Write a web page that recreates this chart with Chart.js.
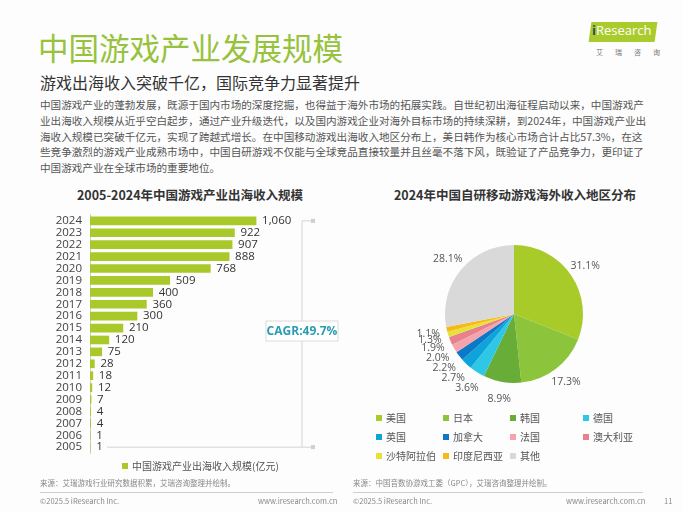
<!DOCTYPE html>
<html>
<head>
<meta charset="utf-8">
<script src="https://cdn.jsdelivr.net/npm/chart.js@4"></script>
<style>
  body { margin: 0; background: #fdfdfd; font-family: "Noto Sans CJK SC", "Noto Sans", sans-serif; }
  #page { position: relative; width: 683px; height: 512px; overflow: hidden; }
  .abs { position: absolute; white-space: nowrap; }
  #title { left: 38px; top: 28px; font-size: 30.5px; color: #97c23c; line-height: 38px; }
  #subtitle { left: 40px; top: 71px; font-size: 16px; color: #333; line-height: 22px; }
  .para { left: 40px; font-size: 10.6px; color: #555; line-height: 14px; }
  .ctitle { font-size: 12.5px; font-weight: bold; color: #333; top: 185px; transform: translateX(-50%); }
  .leg { font-size: 10px; color: #555; line-height: 12px; }
  .leg i { display: inline-block; width: 6px; height: 6px; margin-right: 4px; vertical-align: 1px; }
  .foot { font-size: 7.5px; color: #888; }
  .rule { height: 1px; background: #cfcfcf; }
  #logo { left: 590px; top: 22px; width: 66px; height: 20px; background: #a9cc2c; transform: skewX(-8deg); }
  #logoText { left: 592px; top: 21px; font-size: 13px; color: #fff; font-family: "Open Sans", sans-serif; }
  #logoText b { color: #3a4a5a; font-weight: bold; }
</style>
</head>
<body>
<div id="page">
  <div class="abs" id="title">中国游戏产业发展规模</div>
  <div class="abs" id="logo"></div>
  <div class="abs" id="logoText"><b>i</b>Research</div>
  <div class="abs" style="left:596px;top:47px;font-size:7px;color:#777;letter-spacing:12px;">艾瑞咨询</div>
  <div class="abs" id="subtitle">游戏出海收入突破千亿，国际竞争力显著提升</div>

  <div class="abs para" style="top:98px">中国游戏产业的蓬勃发展，既源于国内市场的深度挖掘，也得益于海外市场的拓展实践。自世纪初出海征程启动以来，中国游戏产</div>
  <div class="abs para" style="top:114px">业出海收入规模从近乎空白起步，通过产业升级迭代，以及国内游戏企业对海外目标市场的持续深耕，到2024年，中国游戏产业出</div>
  <div class="abs para" style="top:130px">海收入规模已突破千亿元，实现了跨越式增长。在中国移动游戏出海收入地区分布上，美日韩作为核心市场合计占比57.3%，在这</div>
  <div class="abs para" style="top:145px">些竞争激烈的游戏产业成熟市场中，中国自研游戏不仅能与全球竞品直接较量并且丝毫不落下风，既验证了产品竞争力，更印证了</div>
  <div class="abs para" style="top:161px">中国游戏产业在全球市场的重要地位。</div>

  <div class="abs ctitle" style="left:190px">2005-2024年中国游戏产业出海收入规模</div>
  <div class="abs ctitle" style="left:515px">2024年中国自研移动游戏海外收入地区分布</div>

  <canvas id="barChart" class="abs" style="left:30px;top:200px;width:320px;height:268px"></canvas>
  <canvas id="pieChart" class="abs" style="left:400px;top:200px;width:228px;height:228px"></canvas>

  <div class="abs leg" style="left:122px;top:460px"><i style="background:#a9c92b"></i>中国游戏产业出海收入规模(亿元)</div>

  <div class="abs foot" style="left:40px;top:477px">来源：艾瑞游戏行业研究数据积累，艾瑞咨询整理并绘制。</div>
  <div class="abs foot" style="left:353px;top:477px">来源：中国音数协游戏工委（GPC），艾瑞咨询整理并绘制。</div>
  <div class="abs rule" style="left:40px;top:492px;width:293px"></div>
  <div class="abs rule" style="left:353px;top:492px;width:290px"></div>
  <div class="abs foot" style="left:40px;top:495px">©2025.5 iResearch Inc.</div>
  <div class="abs foot" style="left:258px;top:495px">www.iresearch.com.cn</div>
  <div class="abs foot" style="left:353px;top:495px">©2025.5 iResearch Inc.</div>
  <div class="abs foot" style="left:566px;top:495px">www.iresearch.com.cn</div>
  <div class="abs foot" style="left:664px;top:495px">11</div>
</div>

<script>
// donnees barres
const years = ['2024','2023','2022','2021','2020','2019','2018','2017','2016','2015',
               '2014','2013','2012','2011','2010','2009','2008','2007','2006','2005'];
const revenue = [1060, 922, 907, 888, 768, 509, 400, 360, 300, 210,
                 120, 75, 28, 18, 12, 7, 4, 4, 1, 1];
const cagrText = 'CAGR:49.7%';

// donnees camembert
const regions = ['美国','日本','韩国','德国','英国','加拿大','法国','澳大利亚','沙特阿拉伯','印度尼西亚','其他'];
const shares = [31.1, 17.3, 8.9, 3.6, 2.7, 2.2, 2.0, 1.9, 1.3, 1.1, 28.1];
const regionColors = ['#a9cb2a','#8cc43c','#67ad37','#2ec8e6','#0ea3db','#0b79c6',
                      '#f5a4ae','#e8818f','#e6e23a','#f7b916','#d9d9d9'];

// valeurs au bout des barres + accolade CAGR
const barLabels = {
    id: 'barLabels',
    afterDatasetsDraw(chart) {
        const ctx = chart.ctx;
        const meta = chart.getDatasetMeta(0);
        ctx.save();
        ctx.font = '11.5px "Open Sans", sans-serif';
        ctx.fillStyle = '#333';
        ctx.textBaseline = 'middle';
        meta.data.forEach((bar, i) => {
            ctx.fillText(revenue[i].toLocaleString('en-US'), bar.x + 6, bar.y);
        });

        const area = chart.chartArea;
        const yTop = meta.data[0].y;
        const yBot = meta.data[meta.data.length - 1].y;
        const xv = area.left + 212;
        ctx.strokeStyle = '#d4d4d4';
        ctx.lineWidth = 1;
        ctx.beginPath();
        ctx.moveTo(xv, yTop); ctx.lineTo(xv + 11, yTop);
        ctx.moveTo(xv, yTop); ctx.lineTo(xv, yBot);
        ctx.moveTo(area.left + 17, yBot); ctx.lineTo(xv + 11, yBot);
        ctx.stroke();
        ctx.fillStyle = '#cfcfcf';
        ctx.fillRect(xv + 9, yTop - 2, 4, 4);
        ctx.fillRect(xv + 9, yBot - 2, 4, 4);

        const yc = (yTop + yBot) / 2 - 3;
        ctx.fillStyle = '#fff';
        ctx.fillRect(xv - 36, yc - 10, 72, 20);
        ctx.strokeStyle = '#dcdcdc';
        ctx.strokeRect(xv - 36, yc - 10, 72, 20);
        ctx.font = 'bold 12px "Open Sans", sans-serif';
        ctx.fillStyle = '#2a9db3';
        ctx.textAlign = 'center';
        ctx.fillText(cagrText, xv, yc + 1);
        ctx.restore();
    }
};

new Chart(document.getElementById('barChart'), {
    type: 'bar',
    data: {
        labels: years,
        datasets: [{ data: revenue, backgroundColor: '#a9c92b', barThickness: 8 }]
    },
    options: {
        indexAxis: 'y',
        responsive: false,
        animation: false,
        layout: { padding: { top: 8, bottom: 9, left: 0, right: 25 } },
        plugins: { legend: { display: false }, tooltip: { enabled: false } },
        scales: {
            x: { display: false, min: 0, max: 1500 },
            y: {
                grid: { display: false, drawTicks: false },
                border: { display: true, color: '#d0d0d0' },
                ticks: { autoSkip: false, color: '#444', padding: 8, font: { size: 11.5, family: '"Open Sans", sans-serif' } },
                afterFit(scale) { scale.width = 60; }
            }
        }
    },
    plugins: [barLabels]
});

// pourcentages autour du camembert
const pieLabels = {
    id: 'pieLabels',
    afterDatasetsDraw(chart) {
        const ctx = chart.ctx;
        ctx.save();
        ctx.font = '10.5px "Open Sans", sans-serif';
        ctx.fillStyle = '#555';
        ctx.textAlign = 'center';
        ctx.textBaseline = 'middle';
        chart.getDatasetMeta(0).data.forEach((arc, i) => {
            const mid = (arc.startAngle + arc.endAngle) / 2;
            const r = arc.outerRadius + (shares[i] < 4 ? 19 : 17);
            ctx.fillText(shares[i].toFixed(1) + '%', arc.x + Math.cos(mid) * r, arc.y + Math.sin(mid) * r);
        });
        ctx.restore();
    }
};

new Chart(document.getElementById('pieChart'), {
    type: 'pie',
    data: {
        labels: regions,
        datasets: [{ data: shares, backgroundColor: regionColors, borderWidth: 0 }]
    },
    options: {
        responsive: false,
        animation: false,
        layout: { padding: 45 },
        plugins: { legend: { display: false }, tooltip: { enabled: false } }
    },
    plugins: [pieLabels]
});

// legende HTML en grille
const legCols = [376, 443, 510, 583];
const legRows = [412, 431, 450];
regions.forEach((name, i) => {
    const el = document.createElement('div');
    el.className = 'abs leg';
    el.style.left = legCols[i % 4] + 'px';
    el.style.top = legRows[Math.floor(i / 4)] + 'px';
    el.innerHTML = '<i style="background:' + regionColors[i] + '"></i>' + name;
    document.getElementById('page').appendChild(el);
});
</script>
</body>
</html>
